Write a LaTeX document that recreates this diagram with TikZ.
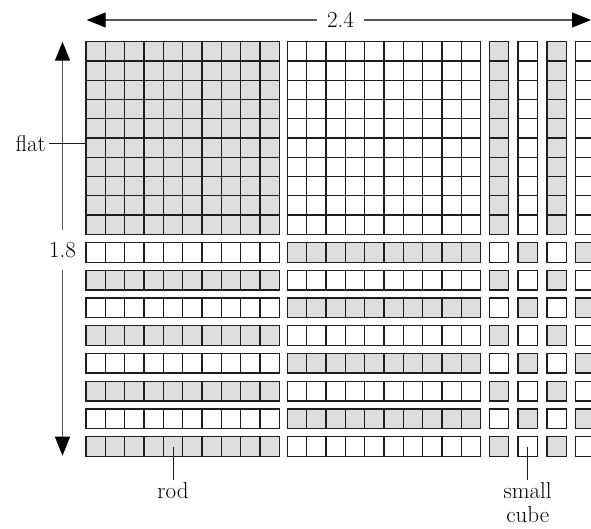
\documentclass[tikz,border=0pt]{standalone}
\usepackage{tikz}
\usetikzlibrary{arrows.meta}
\definecolor{gris}{HTML}{DCDDDF}
\definecolor{trazo}{HTML}{1E1E1E}
\definecolor{grisosc}{HTML}{555555}

\begin{document}
\begin{tikzpicture}[x=1pt, y=-1pt, font=\fontsize{23}{23.5}\selectfont,
  celda/.style={draw=trazo, line width=1.3pt},
  cota/.style={grisosc, line width=1.1pt, -{Triangle[length=19pt,width=15pt,color=black]}},
  guia/.style={trazo, line width=1pt}]
\useasboundingbox (0,0) rectangle (591,529);
\foreach \x/\c in {86/gris, 287.3/white} {
  \draw[celda, fill=\c] (\x,41.7) rectangle ++(193.3,192.6);
  \foreach \i in {1,...,9} {
    \draw[celda] (\x+\i*19.33,41.7) -- ++(0,192.6);
    \draw[celda] (\x,41.7+\i*19.26) -- ++(193.3,0);
  }
}
\foreach \k in {0,...,3} {
  \pgfmathtruncatemacro\p{100*(1-mod(\k,2))}
  \draw[celda, fill=gris!\p] (489.3+\k*28.8,41.7) rectangle ++(19.33,192.6);
  \foreach \i in {1,...,9}
    \draw[celda] (489.3+\k*28.8,41.7+\i*19.26) -- ++(19.33,0);
}
\foreach \r in {0,...,7} {
  \pgfmathtruncatemacro\p{100*mod(\r,2)}
  \pgfmathtruncatemacro\q{100-\p}
  \foreach \x/\c in {86/\p, 287.3/\q} {
    \draw[celda, fill=gris!\c] (\x,242.7+\r*27.71) rectangle ++(193.3,19.6);
    \foreach \i in {1,...,9}
      \draw[celda] (\x+\i*19.33,242.7+\r*27.71) -- ++(0,19.6);
  }
  \foreach \k in {0,...,3} {
    \pgfmathtruncatemacro\s{100*mod(\r+\k,2)}
    \draw[celda, fill=gris!\s] (489.3+\k*28.8,242.7+\r*27.71) rectangle ++(19.33,19.6);
  }
}
\node[inner sep=10pt] (ancho) at (340.5,20) {2.4};
\coordinate (ancho-izq) at (86.7,20);
\coordinate (ancho-der) at (591,20);
\draw[cota] (ancho) -- (ancho-izq);
\draw[cota] (ancho) -- (ancho-der);
\node[inner xsep=4pt, inner ysep=12pt] (alto) at (62.5,250) {1.8};
\coordinate (alto-arr) at (62.5,41.7);
\coordinate (alto-ab) at (62.5,455.7);
\draw[cota] (alto) -- (alto-arr);
\draw[cota] (alto) -- (alto-ab);
\node[anchor=east, inner sep=3pt] (plano) at (49,143.3) {flat};
\coordinate (plano-borde) at (86,143.3);
\draw[guia] (plano) -- (plano-borde);
\coordinate (varilla-celda) at (173,446.5);
\node[anchor=north, inner sep=3pt] (varilla) at (173,479.5) {rod};
\draw[guia] (varilla) -- (varilla-celda);
\coordinate (cubo-celda) at (527.7,446.5);
\node[anchor=north, inner sep=3pt, align=center] (cubo) at (527.7,479.5) {small\\cube};
\draw[guia] (cubo) -- (cubo-celda);
\end{tikzpicture}
\end{document}
